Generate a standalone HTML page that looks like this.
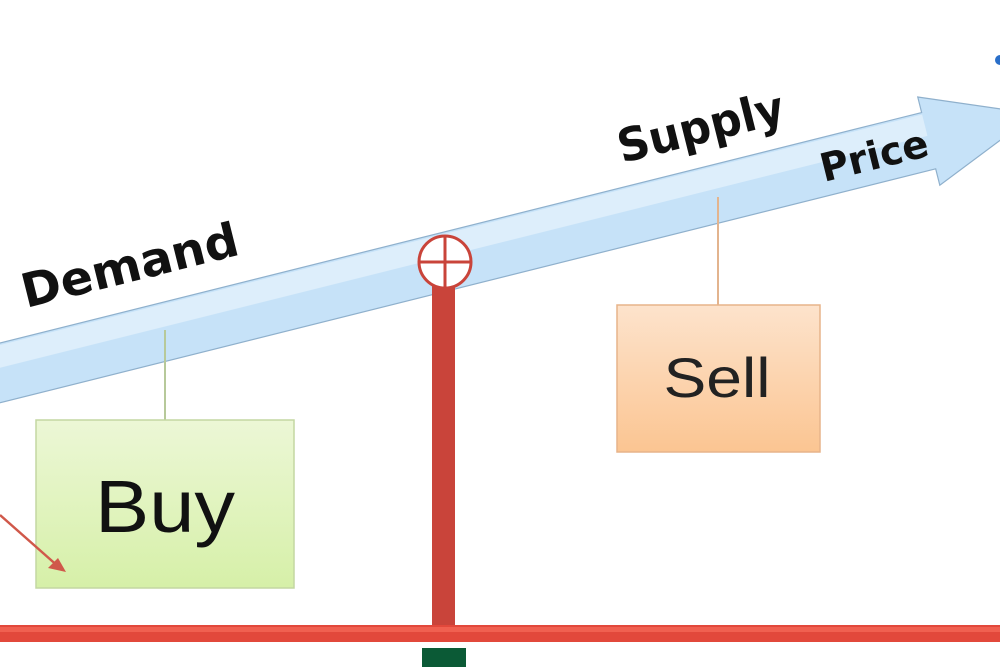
<!DOCTYPE html>
<html><head><style>html,body{margin:0;padding:0;background:#fff;overflow:hidden}</style></head>
<body>
<svg width="1000" height="667" viewBox="0 0 1000 667" xmlns="http://www.w3.org/2000/svg">
<defs>
<linearGradient id="bg" x1="0" y1="0" x2="0" y2="1"><stop offset="0" stop-color="#ecf7d6"/><stop offset="1" stop-color="#d6f0a8"/></linearGradient>
<linearGradient id="sg" x1="0" y1="0" x2="0" y2="1"><stop offset="0" stop-color="#fde3cc"/><stop offset="1" stop-color="#fbc592"/></linearGradient>
</defs>
<g transform="translate(0,343) rotate(-14.04)">
<polygon points="-20,0 950,0 950,-16 1060,29 950,75 950,58 -20,58" fill="#c6e2f8" stroke="#8fb0cc" stroke-width="1.2"/>
<rect x="-20" y="2" width="970" height="22" fill="#ddeefb"/>
</g>
<text transform="translate(26,308) rotate(-14)" font-family="DejaVu Sans" font-weight="bold" font-size="47" fill="#111" textLength="222" lengthAdjust="spacingAndGlyphs">Demand</text>
<text transform="translate(622,163) rotate(-14)" font-family="DejaVu Sans" font-weight="bold" font-size="46" fill="#111" textLength="170" lengthAdjust="spacingAndGlyphs">Supply</text>
<text transform="translate(824,182) rotate(-14)" font-family="DejaVu Sans" font-weight="bold" font-size="39" fill="#111" textLength="110" lengthAdjust="spacingAndGlyphs">Price</text>
<line x1="165" y1="330" x2="165" y2="420" stroke="#b7c99a" stroke-width="2"/>
<line x1="718" y1="197" x2="718" y2="305" stroke="#e3b48e" stroke-width="2"/>
<rect x="36" y="420" width="258" height="168" fill="url(#bg)" stroke="#c4d7a2" stroke-width="1.5"/>
<text x="165" y="532" text-anchor="middle" font-family="Liberation Sans" font-size="74" fill="#111" textLength="140" lengthAdjust="spacingAndGlyphs">Buy</text>
<rect x="617" y="305" width="203" height="147" fill="url(#sg)" stroke="#e7b48a" stroke-width="1.5"/>
<text x="717" y="397" text-anchor="middle" font-family="Liberation Sans" font-size="56" fill="#222" textLength="107" lengthAdjust="spacingAndGlyphs">Sell</text>
<line x1="0" y1="515" x2="60" y2="568" stroke="#d0584a" stroke-width="2.5"/>
<polygon points="66,572 48,568 58,558" fill="#d0584a"/>
<rect x="432" y="283" width="23" height="345" fill="#c9443a"/>
<circle cx="445" cy="262" r="26" fill="#fff" stroke="#c9443a" stroke-width="3"/>
<line x1="419" y1="262" x2="471" y2="262" stroke="#c9443a" stroke-width="3"/>
<line x1="445" y1="236" x2="445" y2="288" stroke="#c9443a" stroke-width="3"/>
<rect x="0" y="625" width="1000" height="17" fill="#e2483b"/>
<rect x="0" y="627" width="1000" height="5" fill="#f06050"/>
<rect x="422" y="648" width="44" height="19" fill="#0b5a36"/>
<circle cx="1000" cy="60" r="5" fill="#2a6fc9"/>
</svg>
</body></html>
